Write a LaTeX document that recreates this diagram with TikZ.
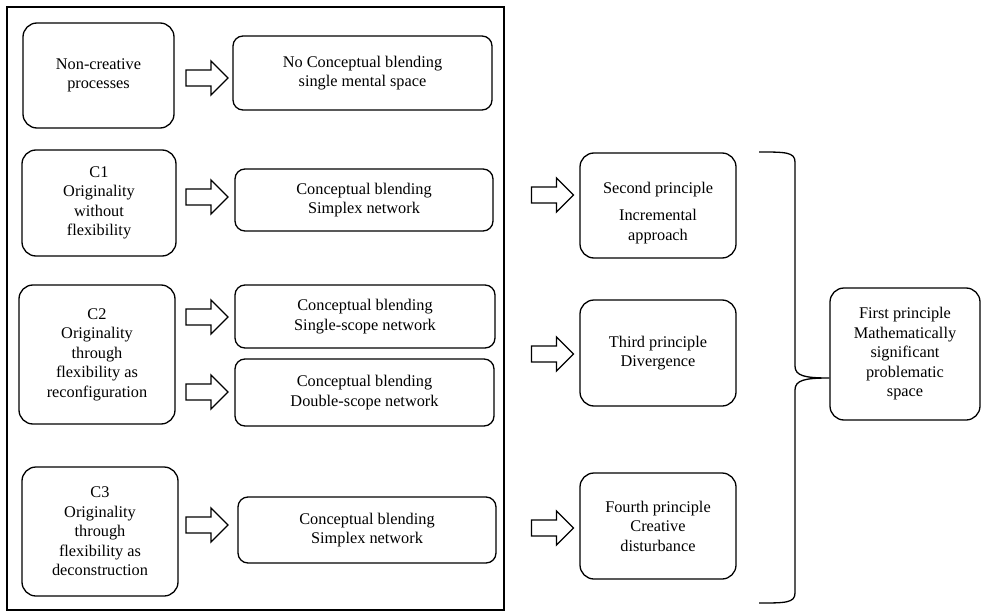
\documentclass[tikz,border=0pt]{standalone}
\usepackage{fontspec}
\setmainfont{Liberation Serif}
\begin{document}
\begin{tikzpicture}[x=1pt,y=-1pt,
  txt/.style={font=\fontsize{16.3}{19.5}\selectfont, align=center},
  box/.style={draw, line width=1.3pt, rounded corners=14pt, inner sep=0pt, txt},
  wide/.style={box, rounded corners=10pt},
  barrow/.pic={\draw[line width=1.3pt, line join=miter]
    (-21,-8) -- (4,-8) -- (4,-17) -- (21,0) -- (4,17) -- (4,8) -- (-21,8) -- cycle;},
  frame/.style={draw, line width=1.3pt}]
\useasboundingbox (0,0) rectangle (981,612);

% outer frame around the left part
\draw[frame] (7,7) rectangle (504,610);

% left column: kinds of processes
\node[box, minimum width=151pt, minimum height=105pt] (nc) at (98.5,75.5) {Non-creative\\processes};
\node[box, minimum width=154pt, minimum height=106pt] (c1) at (99,203) {C1\\Originality\\without\\flexibility};
\node[box, minimum width=156pt, minimum height=139pt] (c2) at (97,354.5) {C2\\Originality\\through\\flexibility as\\reconfiguration};
\node[box, minimum width=156pt, minimum height=129pt] (c3) at (100,531.5) {C3\\Originality\\through\\flexibility as\\deconstruction};

% middle column: blending types
\node[wide, minimum width=259pt, minimum height=74pt] (ncb) at (362.5,73) {No Conceptual blending\\single mental space};
\node[wide, minimum width=258pt, minimum height=62pt] (s1) at (364,200) {Conceptual blending\\Simplex network};
\node[wide, minimum width=260pt, minimum height=63pt] (ss) at (365,316.5) {Conceptual blending\\Single-scope network};
\node[wide, minimum width=259pt, minimum height=67pt] (ds) at (364.5,392.5) {Conceptual blending\\Double-scope network};
\node[wide, minimum width=258pt, minimum height=66pt] (s3) at (367,530) {Conceptual blending\\Simplex network};

% block arrows inside the frame
\pic (a1) at (207,78) {barrow};
\pic (a2) at (207,197) {barrow};
\pic (a3) at (207,317) {barrow};
\pic (a4) at (207,392) {barrow};
\pic (a5) at (207,525) {barrow};

% principles
\node[box, minimum width=156pt, minimum height=105pt] (p2) at (658,205.5) {\rule{0pt}{26pt}Second principle\\[8pt]Incremental\\approach};
\node[box, minimum width=156pt, minimum height=106pt] (p3) at (658,353) {Third principle\\Divergence};
\node[box, minimum width=156pt, minimum height=106pt] (p4) at (658,526) {Fourth principle\\Creative\\disturbance};
\node[box, minimum width=150pt, minimum height=132pt] (p1) at (905,354) {First principle\\Mathematically\\significant\\problematic\\space};

% block arrows towards the principles
\pic (b2) at (552.5,195) {barrow};
\pic (b3) at (552.5,354) {barrow};
\pic (b4) at (552.5,528) {barrow};

% brace gathering the three principles
\coordinate (tip) at (p1.west |- 0,378);
\draw[line width=1.3pt]
  (759,152) .. controls (785,152) and (795,152) .. (795,162)
  -- (795,366) .. controls (795,376) and (805,378) .. (tip)
  (tip) .. controls (805,378) and (795,380) .. (795,390)
  -- (795,593) .. controls (795,603) and (785,603) .. (759,603);
\end{tikzpicture}
\end{document}
